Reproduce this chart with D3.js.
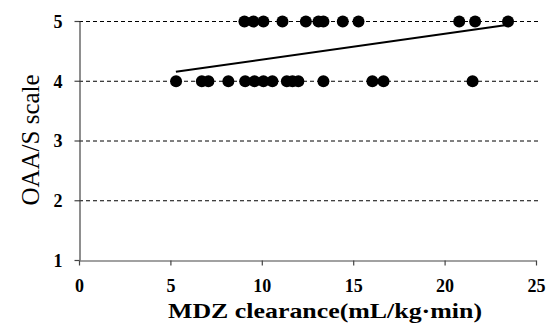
<!DOCTYPE html>
<html>
<head>
<meta charset="utf-8">
<script src="https://cdn.jsdelivr.net/npm/d3@7"></script>
</head>
<body style="margin:0">
<script>
// ---- data ----
var clearanceScore5 = [9.05, 9.54, 10.09, 11.13, 12.41, 13.10, 13.37, 14.43, 15.29, 20.80, 21.67, 23.47];
var clearanceScore4 = [5.31, 6.72, 7.08, 8.17, 9.09, 9.60, 10.09, 10.58, 11.37, 11.68, 12.00, 13.37, 16.05, 16.66, 21.53];
var trendX = [5.3, 23.3];
var trendY = [4.15, 4.93];
var xTicks = [0, 5, 10, 15, 20, 25];
var yTicks = [1, 2, 3, 4, 5];
var gridTicks = [2, 3, 4, 5];

var width = 548, height = 325;

var svg = d3.select("body")
    .append("svg")
    .attr("width", width)
    .attr("height", height);

var x = d3.scaleLinear().domain([0, 25]).range([79, 536]);
var y = d3.scaleLinear().domain([1, 5]).range([260, 21]);

// grid lines
svg.append("g")
    .selectAll("line")
    .data(gridTicks)
    .join("line")
    .attr("x1", x(0))
    .attr("x2", 540)
    .attr("y1", function(d) { return y(d) + 0.5; })
    .attr("y2", function(d) { return y(d) + 0.5; })
    .attr("stroke", "#000")
    .attr("stroke-width", 1)
    .attr("stroke-dasharray", "4,3");

// axes
var xAxis = svg.append("g")
    .attr("transform", "translate(0," + (y(1) + 0.5) + ")")
    .call(d3.axisBottom(x).tickValues(xTicks).tickFormat(d3.format("d"))
        .tickSize(5).tickPadding(14).tickSizeOuter(0));

var yAxis = svg.append("g")
    .attr("transform", "translate(" + (x(0) + 0.5) + ",0)")
    .call(d3.axisLeft(y).tickValues(yTicks).tickFormat(d3.format("d"))
        .tickSize(5).tickPadding(12).tickSizeOuter(0));

[xAxis, yAxis].forEach(function(a) {
    a.attr("font-family", "Liberation Serif").attr("font-size", 18);
    a.select(".domain").attr("stroke", "#444").attr("stroke-width", 1.2);
    a.selectAll(".tick line").attr("stroke", "#444").attr("stroke-width", 1.2);
    a.selectAll(".tick text")
        .attr("fill", "#000")
        .style("font-family", "Liberation Serif")
        .style("font-weight", "bold");
});
yAxis.selectAll(".tick text").attr("dy", "0.35em");

// trend line
var line = d3.line()
    .x(function(d) { return x(d[0]); })
    .y(function(d) { return y(d[1]); });

svg.append("path")
    .attr("d", line(d3.zip(trendX, trendY)))
    .attr("fill", "none")
    .attr("stroke", "#000")
    .attr("stroke-width", 2);

// points
var points = clearanceScore5.map(function(v) { return [v, 5]; })
    .concat(clearanceScore4.map(function(v) { return [v, 4]; }));

svg.append("g")
    .selectAll("circle")
    .data(points)
    .join("circle")
    .attr("cx", function(d) { return x(d[0]); })
    .attr("cy", function(d) { return y(d[1]) + 0.5; })
    .attr("r", 6)
    .attr("fill", "#000");

// axis titles
svg.append("text")
    .attr("x", 325)
    .attr("y", 318)
    .attr("text-anchor", "middle")
    .attr("font-size", 22)
    .attr("textLength", 314)
    .attr("lengthAdjust", "spacingAndGlyphs")
    .style("font-family", "Liberation Serif")
    .style("font-weight", "bold")
    .text("MDZ clearance(mL/kg\u00b7min)");

svg.append("text")
    .attr("transform", "translate(39,140) rotate(-90)")
    .attr("text-anchor", "middle")
    .attr("font-size", 25)
    .style("font-family", "Liberation Serif")
    .text("OAA/S scale");
</script>
</body>
</html>
